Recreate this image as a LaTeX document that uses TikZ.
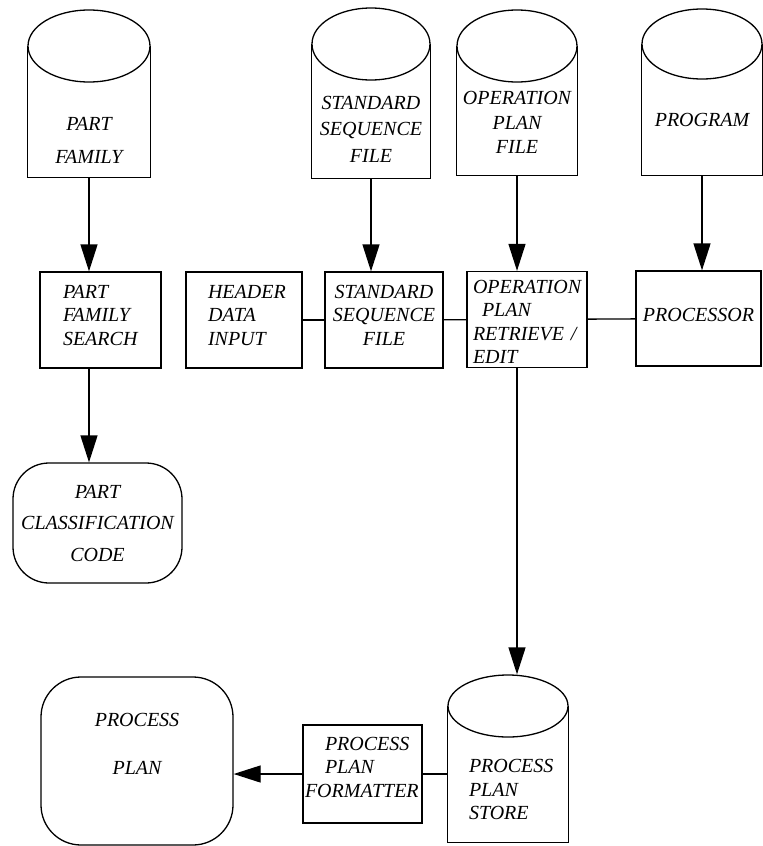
\documentclass[tikz,border=0pt]{standalone}
\usepackage{fontspec}
\setmainfont{Liberation Serif}
\usetikzlibrary{arrows.meta,shapes.geometric}

\begin{document}
\begin{tikzpicture}[x=1pt,y=-1pt, line width=1.3pt,
  every node/.style={font=\itshape\fontsize{20}{23.5}\selectfont, inner sep=0pt},
  box/.style={draw, rectangle, minimum height=96pt},
  disc/.style={draw, ellipse, minimum width=120pt, minimum height=72pt},
  drum/.style={rectangle, minimum width=120pt},
  rbox/.style={draw, rectangle, rounded corners=36pt, align=center},
  >={Triangle[length=27pt,width=17pt]}]
    \useasboundingbox (0,0) rectangle (763,846);

    % files on top
    \node[disc, minimum width=122pt] (pf-top) at (89,46) {};
    \node[drum, minimum height=73pt, align=center] (pf) at (89,140.5) {PART\\[10pt]FAMILY};
    \draw (pf-top.west) -- (pf-top.west |- pf.south) -- (pf-top.east |- pf.south) -- (pf-top.east);

    \node[disc, minimum width=118pt] (ssfile-top) at (371,44) {};
    \node[drum, minimum height=98pt, align=center] (ssfile) at (371,129) {STANDARD\\[3pt]SEQUENCE\\[3pt]FILE};
    \draw (ssfile-top.west) -- (ssfile-top.west |- ssfile.south) -- (ssfile-top.east |- ssfile.south) -- (ssfile-top.east);

    \node[disc] (opfile-top) at (517,46) {};
    \node[drum, minimum height=105pt, align=center] (opfile) at (517,122.5) {OPERATION\\[1pt]PLAN\\[1pt]FILE};
    \draw (opfile-top.west) -- (opfile-top.west |- opfile.south) -- (opfile-top.east |- opfile.south) -- (opfile-top.east);

    \node[disc, minimum height=70pt] (prog-top) at (702,44) {};
    \node[drum, minimum height=110pt] (prog) at (702,120) {PROGRAM};
    \draw (prog-top.west) -- (prog-top.west |- prog.south) -- (prog-top.east |- prog.south) -- (prog-top.east);

    % row of boxes
    \node[box, minimum width=121pt, text width=75pt, text depth=57pt, align=left] (pfsearch) at (100.5,320) {PART\\FAMILY\\SEARCH};
    \node[box, minimum width=116pt, text width=72pt, text depth=57pt, align=left] (header) at (244,320) {HEADER\\DATA\\INPUT};
    \node[box, minimum width=118pt, text width=104pt, text depth=57pt, align=center] (ssbox) at (384,320) {STANDARD\\SEQUENCE\\FILE};
    \node[box, minimum width=120pt, text width=108pt, text depth=66pt, align=left] (opedit) at (527,319.5) {OPERATION\\\hspace*{9pt}PLAN\\RETRIEVE /\\EDIT};
    \node[box, minimum width=125pt, minimum height=95pt, text depth=8pt] (proc) at (698.5,318.5) {PROCESSOR};

    \node[rbox, minimum width=169pt, minimum height=120pt] (code) at (97.5,523) {PART\\[8pt]CLASSIFICATION\\[8pt]CODE};

    % bottom row
    \node[disc, minimum height=62pt] (store-top) at (508,706) {};
    \node[drum, minimum height=105pt, text width=78pt, align=left] (store) at (508,789.5) {PROCESS\\PLAN\\STORE};
    \draw (store-top.west) -- (store-top.west |- store.south) -- (store-top.east |- store.south) -- (store-top.east);

    \node[box, minimum width=119pt, minimum height=98pt, text width=115pt, text depth=61pt, align=left] (fmt) at (362.5,774) {\hspace*{20pt}PROCESS\\\hspace*{20pt}PLAN\\FORMATTER};
    \node[rbox, rounded corners=40pt, minimum width=192pt, minimum height=168pt, text depth=34pt] (plan) at (137,761) {PROCESS\\[24pt]PLAN};

    % connectors
    \draw[->] (pf.south) -- (pf.south |- pfsearch.north);
    \draw[->] (pf.south |- pfsearch.south) -- (pf.south |- code.north);
    \draw[->] (ssfile.south) -- (ssfile.south |- ssbox.north);
    \draw[->] (opfile.south) -- (opfile.south |- opedit.north);
    \draw[->] (prog.south) -- (prog.south |- proc.north);
    \draw (header) -- (ssbox);
    \draw (ssbox) -- (opedit);
    \draw (opedit) -- (proc);
    \draw[->] (opfile.south |- opedit.south) -- (opfile.south |- store-top.north);
    \draw (fmt.east) -- (fmt.east -| store-top.west);
    \draw[->] (fmt.west) -- (fmt.west -| plan.east);
\end{tikzpicture}
\end{document}
